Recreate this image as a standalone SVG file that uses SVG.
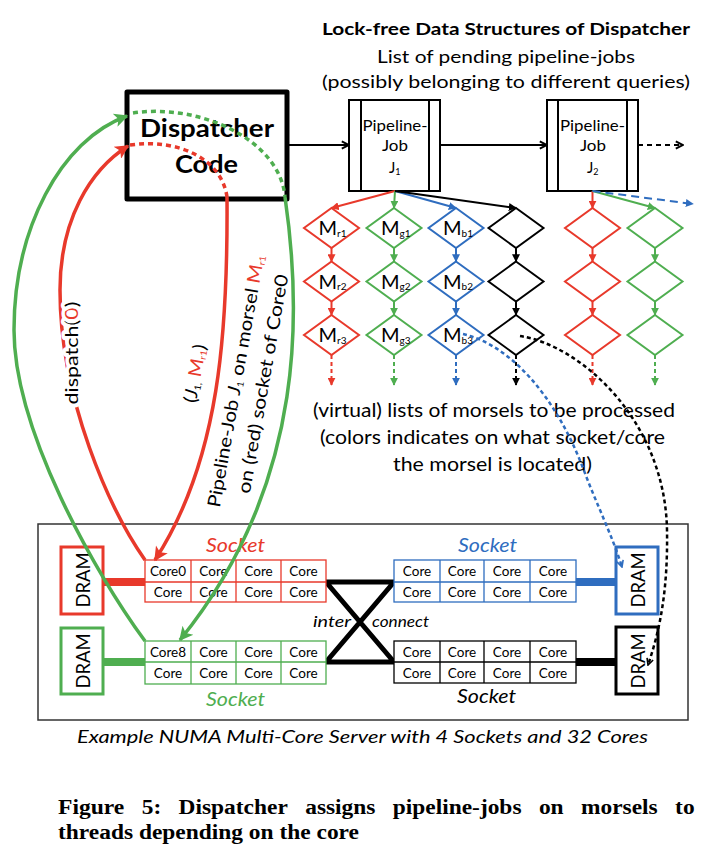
<svg xmlns="http://www.w3.org/2000/svg" width="708" height="854" viewBox="0 0 708 854">
<defs>
<style>
text{font-family:Lato,"Liberation Sans",sans-serif;fill:#000}
.b{font-weight:bold}
.it{font-style:italic}
.ser{font-family:"Liberation Serif","Times New Roman",serif;font-weight:bold;font-size:20.5px}
.red{fill:#E8392B}
.grn{fill:#4FAE50}
.blu{fill:#2F6DBF}
.lR{fill:none;stroke:#E8392B;stroke-width:2}
.lG{fill:none;stroke:#4FAE50;stroke-width:2}
.lB{fill:none;stroke:#2F6DBF;stroke-width:2}
.lK{fill:none;stroke:#000;stroke-width:2}
.dash{stroke-dasharray:4 3}
.cR{fill:none;stroke:#E8392B;stroke-width:3.5}
.cG{fill:none;stroke:#4FAE50;stroke-width:3.5}
.dR{fill:#fff;stroke:#E8392B;stroke-width:2}
.dG{fill:#fff;stroke:#4FAE50;stroke-width:2}
.dB{fill:#fff;stroke:#2F6DBF;stroke-width:2}
.dK{fill:#fff;stroke:#000;stroke-width:2}
.m{font-size:20px}
.sub{font-size:9px}
.msub{font-size:10px}
.core{font-size:13.5px;text-anchor:middle}
.job{font-size:15px}
.sock{font-size:19px;font-style:italic}
.dram{font-size:20px}
.big{font-size:18px}
.note{font-size:19px}
</style>
<marker id="tR" viewBox="0 0 10 10" refX="9" refY="5" markerWidth="8" markerHeight="8" markerUnits="userSpaceOnUse" orient="auto"><path d="M0,0 L10,5 L0,10 z" fill="#E8392B"/></marker>
<marker id="tG" viewBox="0 0 10 10" refX="9" refY="5" markerWidth="8" markerHeight="8" markerUnits="userSpaceOnUse" orient="auto"><path d="M0,0 L10,5 L0,10 z" fill="#4FAE50"/></marker>
<marker id="tB" viewBox="0 0 10 10" refX="9" refY="5" markerWidth="8" markerHeight="8" markerUnits="userSpaceOnUse" orient="auto"><path d="M0,0 L10,5 L0,10 z" fill="#2F6DBF"/></marker>
<marker id="tK" viewBox="0 0 10 10" refX="9" refY="5" markerWidth="8" markerHeight="8" markerUnits="userSpaceOnUse" orient="auto"><path d="M0,0 L10,5 L0,10 z" fill="#000"/></marker>
<marker id="bR" viewBox="0 0 10 10" refX="9" refY="5" markerWidth="18" markerHeight="14" markerUnits="userSpaceOnUse" orient="auto"><path d="M0,0 L10,5 L0,10 L2.5,5 z" fill="#E8392B"/></marker>
<marker id="bG" viewBox="0 0 10 10" refX="9" refY="5" markerWidth="18" markerHeight="14" markerUnits="userSpaceOnUse" orient="auto"><path d="M0,0 L10,5 L0,10 L2.5,5 z" fill="#4FAE50"/></marker>
<marker id="cK" viewBox="0 0 10 10" refX="9" refY="5" markerWidth="9" markerHeight="11" markerUnits="userSpaceOnUse" orient="auto"><path d="M1,1 L9,5 L1,9" fill="none" stroke="#000" stroke-width="2.2"/></marker>
<marker id="cK2" viewBox="0 0 10 10" refX="9" refY="5" markerWidth="8" markerHeight="10" markerUnits="userSpaceOnUse" orient="auto"><path d="M1,1 L9,5 L1,9" fill="none" stroke="#000" stroke-width="2"/></marker>
<marker id="cB" viewBox="0 0 10 10" refX="9" refY="5" markerWidth="8" markerHeight="10" markerUnits="userSpaceOnUse" orient="auto"><path d="M1,1 L9,5 L1,9" fill="none" stroke="#2F6DBF" stroke-width="2"/></marker>
</defs>
<rect width="708" height="854" fill="#fff"/>

<g id="header">
<text x="322" y="35" class="b" font-size="17" textLength="368" lengthAdjust="spacingAndGlyphs">Lock-free Data Structures of Dispatcher</text>
<text x="377" y="63" font-size="17" textLength="258" lengthAdjust="spacingAndGlyphs">List of pending pipeline-jobs</text>
<text x="322" y="88" font-size="17" textLength="368" lengthAdjust="spacingAndGlyphs">(possibly belonging to different queries)</text>
</g>

<g id="dispatcher">
<rect x="127" y="92" width="160" height="107" fill="#fff" stroke="#000" stroke-width="5" stroke-linejoin="round"/>
<text x="140" y="137" class="b" font-size="24" textLength="134" lengthAdjust="spacingAndGlyphs">Dispatcher</text>
<text x="175" y="173" class="b" font-size="24" textLength="63" lengthAdjust="spacingAndGlyphs">Code</text>
</g>

<g id="job1">
<rect x="349" y="100" width="91" height="91" fill="#fff" stroke="#000" stroke-width="2"/>
<line x1="361" y1="100" x2="361" y2="191" stroke="#000" stroke-width="2"/>
<line x1="429" y1="100" x2="429" y2="191" stroke="#000" stroke-width="2"/>
<text x="362.5" y="131" class="job" textLength="65" lengthAdjust="spacingAndGlyphs">Pipeline-</text>
<text x="382" y="151" class="job" textLength="26" lengthAdjust="spacingAndGlyphs">Job</text>
<text x="389" y="173" class="job">J<tspan class="sub" dy="2">1</tspan></text>
</g>
<g id="job2">
<rect x="547" y="100" width="91" height="91" fill="#fff" stroke="#000" stroke-width="2"/>
<line x1="558" y1="100" x2="558" y2="191" stroke="#000" stroke-width="2"/>
<line x1="627" y1="100" x2="627" y2="191" stroke="#000" stroke-width="2"/>
<text x="560" y="131" class="job" textLength="65" lengthAdjust="spacingAndGlyphs">Pipeline-</text>
<text x="580" y="151" class="job" textLength="26" lengthAdjust="spacingAndGlyphs">Job</text>
<text x="587" y="173" class="job">J<tspan class="sub" dy="2">2</tspan></text>
</g>

<g id="mr1"><polygon class="dR" points="331.5,208 359,228 331.5,248 304,228"/><text x="318.5" y="235" class="m">M<tspan class="msub" dy="1.5">r1</tspan></text></g>
<g id="mr2"><polygon class="dR" points="331.5,261.5 359,281.5 331.5,301.5 304,281.5"/><text x="318.5" y="288.5" class="m">M<tspan class="msub" dy="1.5">r2</tspan></text></g>
<g id="mr3"><polygon class="dR" points="331.5,315 359,335 331.5,355 304,335"/><text x="318.5" y="342" class="m">M<tspan class="msub" dy="1.5">r3</tspan></text></g>
<g id="mg1"><polygon class="dG" points="394,208 421.5,228 394,248 366.5,228"/><text x="381" y="235" class="m">M<tspan class="msub" dy="1.5">g1</tspan></text></g>
<g id="mg2"><polygon class="dG" points="394,261.5 421.5,281.5 394,301.5 366.5,281.5"/><text x="381" y="288.5" class="m">M<tspan class="msub" dy="1.5">g2</tspan></text></g>
<g id="mg3"><polygon class="dG" points="394,315 421.5,335 394,355 366.5,335"/><text x="381" y="342" class="m">M<tspan class="msub" dy="1.5">g3</tspan></text></g>
<g id="mb1"><polygon class="dB" points="456,208 483.5,228 456,248 428.5,228"/><text x="443" y="235" class="m">M<tspan class="msub" dy="1.5">b1</tspan></text></g>
<g id="mb2"><polygon class="dB" points="456,261.5 483.5,281.5 456,301.5 428.5,281.5"/><text x="443" y="288.5" class="m">M<tspan class="msub" dy="1.5">b2</tspan></text></g>
<g id="mb3"><polygon class="dB" points="456,315 483.5,335 456,355 428.5,335"/><text x="443" y="342" class="m">M<tspan class="msub" dy="1.5">b3</tspan></text></g>
<g id="mk1"><polygon class="dK" points="516,208 543.5,228 516,248 488.5,228"/></g>
<g id="mk2"><polygon class="dK" points="516,261.5 543.5,281.5 516,301.5 488.5,281.5"/></g>
<g id="mk3"><polygon class="dK" points="516,315 543.5,335 516,355 488.5,335"/></g>
<g id="mr21"><polygon class="dR" points="592.5,208 620,228 592.5,248 565,228"/></g>
<g id="mr22"><polygon class="dR" points="592.5,261.5 620,281.5 592.5,301.5 565,281.5"/></g>
<g id="mr23"><polygon class="dR" points="592.5,315 620,335 592.5,355 565,335"/></g>
<g id="mg21"><polygon class="dG" points="655,208 682.5,228 655,248 627.5,228"/></g>
<g id="mg22"><polygon class="dG" points="655,261.5 682.5,281.5 655,301.5 627.5,281.5"/></g>
<g id="mg23"><polygon class="dG" points="655,315 682.5,335 655,355 627.5,335"/></g>

<g id="morsel-note">
<text x="313" y="417" class="note" textLength="362" lengthAdjust="spacingAndGlyphs">(virtual) lists of morsels to be processed</text>
<text x="320" y="444" class="note" textLength="345" lengthAdjust="spacingAndGlyphs">(colors indicates on what socket/core</text>
<text x="393" y="471" class="note" textLength="199" lengthAdjust="spacingAndGlyphs">the morsel is located)</text>
</g>

<g id="server">
<rect x="38" y="524" width="650" height="196" fill="none" stroke="#333" stroke-width="1.5"/>
</g>

<g id="interconnect">
<path d="M326,582 L394,582 L326,662 L394,662 Z" fill="none" stroke="#000" stroke-width="5" stroke-linejoin="round"/>
<text x="313" y="627" class="it" font-size="15" textLength="38" lengthAdjust="spacingAndGlyphs">inter</text>
<text x="372" y="627" class="it" font-size="15" textLength="57" lengthAdjust="spacingAndGlyphs">connect</text>
</g>

<g id="bus">
<line x1="103" y1="582" x2="145" y2="582" stroke="#E8392B" stroke-width="8"/>
<line x1="103" y1="662" x2="145" y2="662" stroke="#4FAE50" stroke-width="8"/>
<line x1="576" y1="582" x2="616" y2="582" stroke="#2F6DBF" stroke-width="8"/>
<line x1="576" y1="662" x2="616" y2="662" stroke="#000" stroke-width="8"/>
</g>

<g id="dram-red">
<rect x="61" y="547" width="42" height="67" fill="#fff" stroke="#E8392B" stroke-width="3"/>
<text transform="translate(90,580) rotate(-90)" x="-27.5" y="0" class="dram" textLength="55" lengthAdjust="spacingAndGlyphs">DRAM</text>
</g>
<g id="dram-green">
<rect x="61" y="628" width="42" height="66" fill="#fff" stroke="#4FAE50" stroke-width="3"/>
<text transform="translate(90,661) rotate(-90)" x="-27.5" y="0" class="dram" textLength="55" lengthAdjust="spacingAndGlyphs">DRAM</text>
</g>
<g id="dram-blue">
<rect x="616" y="547" width="42" height="67" fill="#fff" stroke="#2F6DBF" stroke-width="3"/>
<text transform="translate(645,580) rotate(-90)" x="-27.5" y="0" class="dram" textLength="55" lengthAdjust="spacingAndGlyphs">DRAM</text>
</g>
<g id="dram-black">
<rect x="616" y="627" width="42" height="67" fill="#fff" stroke="#000" stroke-width="3"/>
<text transform="translate(645,661) rotate(-90)" x="-27.5" y="0" class="dram" textLength="55" lengthAdjust="spacingAndGlyphs">DRAM</text>
</g>

<g id="socket-red">
<rect x="145" y="560" width="181" height="42" fill="#fff" stroke="#E8392B" stroke-width="1.3"/>
<path d="M145,582H326M191,560V602M236,560V602M281,560V602" stroke="#E8392B" stroke-width="1.3"/>
<text x="168" y="576" class="core">Core0</text><text x="213.5" y="576" class="core">Core</text><text x="258.5" y="576" class="core">Core</text><text x="303.5" y="576" class="core">Core</text>
<text x="168" y="597" class="core">Core</text><text x="213.5" y="597" class="core">Core</text><text x="258.5" y="597" class="core">Core</text><text x="303.5" y="597" class="core">Core</text>
<text x="206" y="552" class="sock red" textLength="59" lengthAdjust="spacingAndGlyphs">Socket</text>
</g>
<g id="socket-green">
<rect x="145" y="641" width="181" height="43" fill="#fff" stroke="#4FAE50" stroke-width="1.3"/>
<path d="M145,662H326M191,641V684M236,641V684M281,641V684" stroke="#4FAE50" stroke-width="1.3"/>
<text x="168" y="657" class="core">Core8</text><text x="213.5" y="657" class="core">Core</text><text x="258.5" y="657" class="core">Core</text><text x="303.5" y="657" class="core">Core</text>
<text x="168" y="678" class="core">Core</text><text x="213.5" y="678" class="core">Core</text><text x="258.5" y="678" class="core">Core</text><text x="303.5" y="678" class="core">Core</text>
<text x="206" y="706" class="sock grn" textLength="59" lengthAdjust="spacingAndGlyphs">Socket</text>
</g>
<g id="socket-blue">
<rect x="394" y="560" width="182" height="42" fill="#fff" stroke="#2F6DBF" stroke-width="1.3"/>
<path d="M394,582H576M440,560V602M484,560V602M530,560V602" stroke="#2F6DBF" stroke-width="1.3"/>
<text x="417" y="576" class="core">Core</text><text x="462" y="576" class="core">Core</text><text x="507" y="576" class="core">Core</text><text x="553" y="576" class="core">Core</text>
<text x="417" y="597" class="core">Core</text><text x="462" y="597" class="core">Core</text><text x="507" y="597" class="core">Core</text><text x="553" y="597" class="core">Core</text>
<text x="458" y="552" class="sock blu" textLength="59" lengthAdjust="spacingAndGlyphs">Socket</text>
</g>
<g id="socket-black">
<rect x="394" y="641" width="182" height="42" fill="#fff" stroke="#000" stroke-width="1.3"/>
<path d="M394,662H576M440,641V683M484,641V683M530,641V683" stroke="#000" stroke-width="1.3"/>
<text x="417" y="657" class="core">Core</text><text x="462" y="657" class="core">Core</text><text x="507" y="657" class="core">Core</text><text x="553" y="657" class="core">Core</text>
<text x="417" y="678" class="core">Core</text><text x="462" y="678" class="core">Core</text><text x="507" y="678" class="core">Core</text><text x="553" y="678" class="core">Core</text>
<text x="457" y="703" class="sock" textLength="59" lengthAdjust="spacingAndGlyphs">Socket</text>
</g>

<g id="connectors">
<line x1="287" y1="145" x2="349" y2="145" class="lK" marker-end="url(#cK)"/>
<line x1="440" y1="145" x2="547" y2="145" class="lK" marker-end="url(#cK)"/>
<line x1="638" y1="145" x2="683" y2="145" class="lK" stroke-dasharray="5 4" marker-end="url(#cK)"/>

<line x1="395" y1="191" x2="331.5" y2="208" class="lR" marker-end="url(#tR)"/>
<line x1="395" y1="191" x2="394" y2="208" class="lG" marker-end="url(#tG)"/>
<line x1="395" y1="191" x2="456" y2="208" class="lB" marker-end="url(#tB)"/>
<line x1="395" y1="191" x2="516" y2="208" class="lK" marker-end="url(#tK)"/>
<line x1="592.5" y1="191" x2="592.5" y2="208" class="lR" marker-end="url(#tR)"/>
<line x1="592.5" y1="191" x2="655" y2="208" class="lG" marker-end="url(#tG)"/>
<line x1="592.5" y1="191" x2="693" y2="204" class="lB" stroke-dasharray="8 5" marker-end="url(#tB)"/>

<line x1="331.5" y1="248" x2="331.5" y2="261.5" class="lR" marker-end="url(#tR)"/>
<line x1="331.5" y1="301.5" x2="331.5" y2="315" class="lR" marker-end="url(#tR)"/>
<line x1="331.5" y1="355" x2="331.5" y2="385" class="lR dash" marker-end="url(#tR)"/>
<line x1="394" y1="248" x2="394" y2="261.5" class="lG" marker-end="url(#tG)"/>
<line x1="394" y1="301.5" x2="394" y2="315" class="lG" marker-end="url(#tG)"/>
<line x1="394" y1="355" x2="394" y2="385" class="lG dash" marker-end="url(#tG)"/>
<line x1="456" y1="248" x2="456" y2="261.5" class="lB" marker-end="url(#tB)"/>
<line x1="456" y1="301.5" x2="456" y2="315" class="lB" marker-end="url(#tB)"/>
<line x1="456" y1="355" x2="456" y2="385" class="lB dash" marker-end="url(#tB)"/>
<line x1="516" y1="248" x2="516" y2="261.5" class="lK" marker-end="url(#tK)"/>
<line x1="516" y1="301.5" x2="516" y2="315" class="lK" marker-end="url(#tK)"/>
<line x1="516" y1="355" x2="516" y2="385" class="lK dash" marker-end="url(#tK)"/>
<line x1="592.5" y1="248" x2="592.5" y2="261.5" class="lR" marker-end="url(#tR)"/>
<line x1="592.5" y1="301.5" x2="592.5" y2="315" class="lR" marker-end="url(#tR)"/>
<line x1="592.5" y1="355" x2="592.5" y2="385" class="lR dash" marker-end="url(#tR)"/>
<line x1="655" y1="248" x2="655" y2="261.5" class="lG" marker-end="url(#tG)"/>
<line x1="655" y1="301.5" x2="655" y2="315" class="lG" marker-end="url(#tG)"/>
<line x1="655" y1="355" x2="655" y2="385" class="lG dash" marker-end="url(#tG)"/>

<path class="cG" d="M145,641 C95,573 14,430 14,330 C14,230 60,140 127,116" marker-end="url(#bG)"/>
<path class="cG" d="M133,113 C200,103 280,140 285,197" stroke-dasharray="5 4"/>
<path class="cG" d="M285,197 C300,300 310,480 180,640" marker-end="url(#bG)"/>
<path class="cR" d="M145,560 C110,510 60,400 60,290 C60,220 90,170 128,146" marker-end="url(#bR)"/>
<path class="cR" d="M130,145 C180,138 222,160 227,197" stroke-dasharray="5 4"/>
<path class="cR" d="M227,197 C228,330 220,460 155,560" marker-end="url(#bR)"/>

<path d="M463,334 C510,345 555,395 583,468 C596,503 612,535 622,567" fill="none" stroke="#2F6DBF" stroke-width="2.5" stroke-dasharray="4 3" marker-end="url(#cB)"/>
<path d="M520,336 C580,345 665,420 667,530 C668,590 660,630 648,665" fill="none" stroke="#000" stroke-width="2.5" stroke-dasharray="4 3" marker-end="url(#cK2)"/>
</g>

<g id="labels">
<text transform="translate(78,353) rotate(-90)" x="-51.5" y="0" class="big" textLength="103" lengthAdjust="spacingAndGlyphs" stroke="#fff" stroke-width="7" stroke-linejoin="round" paint-order="stroke">dispatch(<tspan class="red">0</tspan>)</text>
<text transform="translate(201,374.5) rotate(-80)" x="-29.5" y="0" class="big" textLength="59" lengthAdjust="spacingAndGlyphs">(<tspan class="it">J</tspan><tspan class="sub" dy="2">1,</tspan><tspan class="red" dy="-2"> M</tspan><tspan class="sub red" dy="2">r1</tspan><tspan dy="-2">)</tspan></text>
<text transform="translate(242,382) rotate(-80)" x="-128" y="0" class="big" textLength="256" lengthAdjust="spacingAndGlyphs">Pipeline-Job <tspan class="it">J</tspan><tspan class="sub" dy="2">1</tspan><tspan dy="-2"> on morsel </tspan><tspan class="red">M</tspan><tspan class="sub red" dy="2">r1</tspan></text>
<text transform="translate(269,385) rotate(-80)" x="-111" y="0" class="big" textLength="222" lengthAdjust="spacingAndGlyphs">on (red) socket of Core0</text>
</g>

<g id="captions">
<text x="77" y="743" class="it" font-size="17" textLength="571" lengthAdjust="spacingAndGlyphs">Example NUMA Multi-Core Server with 4 Sockets and 32 Cores</text>
<text class="ser" x="58" y="814" textLength="66.3" lengthAdjust="spacingAndGlyphs">Figure</text>
<text class="ser" x="141.7" y="814" textLength="19.5" lengthAdjust="spacingAndGlyphs">5:</text>
<text class="ser" x="178.6" y="814" textLength="109.2" lengthAdjust="spacingAndGlyphs">Dispatcher</text>
<text class="ser" x="305.2" y="814" textLength="70.2" lengthAdjust="spacingAndGlyphs">assigns</text>
<text class="ser" x="392.8" y="814" textLength="128.7" lengthAdjust="spacingAndGlyphs">pipeline-jobs</text>
<text class="ser" x="538.9" y="814" textLength="24.7" lengthAdjust="spacingAndGlyphs">on</text>
<text class="ser" x="581" y="814" textLength="76.7" lengthAdjust="spacingAndGlyphs">morsels</text>
<text class="ser" x="675.1" y="814" textLength="19.5" lengthAdjust="spacingAndGlyphs">to</text>
<text class="ser" x="58" y="839" textLength="301" lengthAdjust="spacingAndGlyphs">threads depending on the core</text>
</g>
</svg>
